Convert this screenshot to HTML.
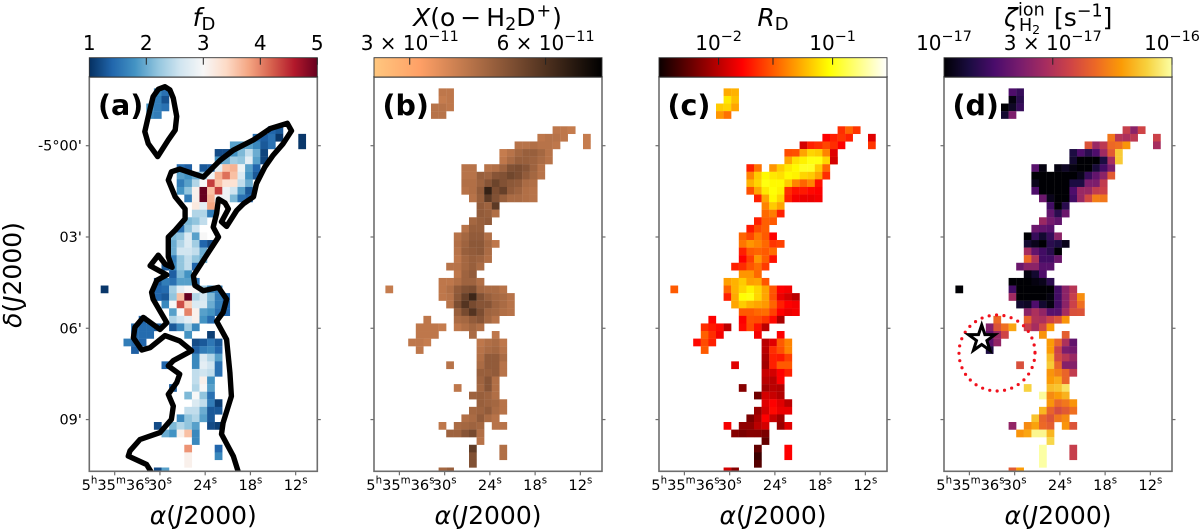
<!DOCTYPE html>
<html>
<head>
<meta charset="utf-8">
<title>Deuteration maps</title>
<style>
html,body{margin:0;padding:0;background:#fff;}
svg{display:block;font-family:"DejaVu Sans","Liberation Sans",sans-serif;filter:blur(0.35px);}
.math{font-style:italic;}
</style>
</head>
<body>
<svg id="fig" xmlns="http://www.w3.org/2000/svg" width="1200" height="532" viewBox="0 0 1200 532">
  <defs id="defs"></defs>
  <g id="panels"></g>
  <text x="204" y="26" font-size="25" text-anchor="middle"><tspan class="math">f</tspan><tspan font-size="18" dy="4">D</tspan></text>
  <text x="487.5" y="26" font-size="25" text-anchor="middle"><tspan class="math">X</tspan>(o<tspan dx="5">−</tspan><tspan dx="5">H</tspan><tspan font-size="17.5" dy="4">2</tspan><tspan dy="-4">D</tspan><tspan font-size="17.5" dy="-9.7" dx="1">+</tspan><tspan dy="9.7" dx="1">)</tspan></text>
  <text x="773" y="26" font-size="25" text-anchor="middle"><tspan class="math">R</tspan><tspan font-size="18" dy="4">D</tspan></text>
  <g font-size="25">
    <text x="1004" y="26" class="math">ζ</text>
    <text x="1018" y="15.5" font-size="17.5">ion</text>
    <text x="1019" y="31" font-size="17.5">H<tspan font-size="12.5" dy="3">2</tspan></text>
    <text x="1054" y="26">[s<tspan font-size="17.5" dy="-9.5">−1</tspan><tspan dy="9.5">]</tspan></text>
  </g>
  <text transform="translate(21,275) rotate(-90)" font-size="25" text-anchor="middle"><tspan class="math">δ</tspan>(<tspan class="math">J</tspan>2000)</text>
  <text x="98" y="115" font-size="28.5" font-weight="bold">(a)</text>
  <text x="382.5" y="115" font-size="28.5" font-weight="bold">(b)</text>
  <text x="667.5" y="115" font-size="28.5" font-weight="bold">(c)</text>
  <text x="952.5" y="115" font-size="28.5" font-weight="bold">(d)</text>
  <circle cx="997" cy="353" r="38" fill="none" stroke="#f0101c" stroke-width="3.2" stroke-linecap="round" stroke-dasharray="0 7.43"></circle>
  <polygon points="981.7,325 984.9,334.6 995,334.6 986.9,340.6 990,350.4 981.7,344.5 973.4,350.4 976.5,340.6 968.4,334.6 978.5,334.6" fill="#fff" stroke="#000" stroke-width="3" stroke-linejoin="miter"></polygon>
</svg>
<script>
// ---- shared axis tick data ----
const raTickSeconds = [36, 30, 24, 18, 12];
const raTickLabels = ['5^h^35^m^36^s', '30^s', '24^s', '18^s', '12^s'];
const decTickMinutes = [0, 3, 6, 9];
const decTickLabels = ["-5°00'", "03'", "06'", "09'"];

// ---- colour-bar ticks (value, label) ----
const fdBarTicks = [1, 2, 3, 4, 5];
const fdBarLabels = ['1', '2', '3', '4', '5'];
const xBarTicks = [3, 6];
const xBarLabels = ['3 × 10^−11', '6 × 10^−11'];
const rdBarTicks = [1, 3, 10];
const rdBarLabels = ['10^−2', '', '10^−1'];
const zetaBarTicks = [1, 3, 10];
const zetaBarLabels = ['10^−17', '3 × 10^−17', '10^−16'];

// ---- heatmap values: [row, firstColumn, value, value, ...] ----
// f_D (linear, 1 to 5)
const fdCells = [
[1,8,1.7,1.5],[2,8,1.6,1.25],[3,7,1.8,1.6,1.5],[4,7,1.7,1.6],
[6,23,1.4,1.3],[7,21,1.5,1.35,1.5,1.05],[7,27,1.05],[8,18,1.9,1.9,1.9,1.7,1.3,1.5],[8,27,1.05],
[9,16,1.2,1.2,1.8,2.1,2.5,2.0,1.15],[10,16,1.8,2.0,2.3,2.2,2.8,1.9,1.15],
[11,11,1.45,1.35],[11,14,1.3,1.35,2.8,3.6,3.7,2.9,1.9,1.4],
[12,11,1.9,1.8,2.0,2.3,2.9,3.7,4.1,3.6,2.7,1.8,1.3],
[13,11,1.6,1.9,2.4,3.0,4.4,3.6,3.3,3.3,2.5,2.0],
[14,11,1.8,2.2,3.1,5.0,3.6,4.4,2.9,2.6,1.9,1.3],
[15,12,1.6,3.1,5.0,3.7,2.9,2.9,2.1,1.5,1.4],
[16,13,3.2,2.8,3.8],[17,13,2.4,2.4,1.6],[18,12,2.1,2.2,2.5],[19,11,1.5,2.2,2.6],
[20,10,2.1,2.2,2.7,1.9,3.0],[21,10,2.0,2.4,2.7,2.3,1.4,1.2],[22,10,2.0,2.6,2.6,2.5,2.0],
[23,10,1.6,2.2,2.5,2.2,2.0],[24,9,1.3,1.7,2.2,2.5,1.4],[25,10,1.35,2.1,1.8],
[26,8,1.3,1.6,1.5,1.9,1.9,1.5],[27,8,1.4,1.45,2.3,2.8,3.0,3.0,2.3,1.7,1.6],[27,1,1.05],
[28,8,1.4,1.3,2.2,3.6,5.0,2.4,2.6,2.1,1.6,1.4],
[29,9,1.7,3.0,4.3,3.5,2.7,2.7,2.0,1.6,1.4],[30,10,1.9,3.0,4.0,3.1,1.9,1.8,1.5,1.4],
[31,6,1.4],[31,10,2.4,2.6,2.8,3.1,1.8,1.45],[32,5,1.5,1.45,1.45,1.3],[32,10,1.3,1.7,2.3,1.7],
[33,5,1.45,1.45,1.45],[33,12,1.8],[33,15,1.1],[34,4,1.6,1.45,1.4],[34,13,1.2,1.3,1.55,1.3],
[35,5,1.35],[35,13,1.35,1.6,1.7,1.4],[36,13,1.7,2.7,2.4,1.9],[37,9,1.4],[37,13,1.7,2.8,2.6,1.5],
[38,13,2.5,2.6,2.5,1.5],[39,13,2.5,3.1,1.8],[40,10,1.3],[40,13,2.4,3.0,1.9],
[41,12,2.1,3.0,2.2,1.5],[42,13,2.7,2.5,1.6,1.1],[43,12,2.5,2.5,2.0,1.3,1.3],
[44,11,1.7,2.2,2.4,1.9,1.3],[45,8,1.2],[45,10,2.1,2.4,2.2,1.9],[45,15,1.2,1.1],
[46,9,2.0,1.8,3.1,3.6,1.7],[47,13,1.7],[48,12,3.9],[48,16,1.4],[49,12,3.1],[49,16,1.7],[50,12,3.1],[51,8,1.2,1.9]
];
// X(o-H2D+) in units of 1e-11
const xCells = [
[1,8,4.0,4.0],[2,8,3.9,4.0],[3,7,4.1,4.1,4.0],[4,7,4.1,4.1],
[6,23,4.0,4.0,3.9],[7,21,4.0,4.1,4.1,4.0],[7,27,3.9],[8,18,4.1,4.1,4.2,4.1,4.1,4.0],[8,27,3.9],
[9,16,3.9,4.1,4.4,4.6,4.6,4.4,4.1],[10,16,4.0,4.3,4.6,4.6,4.5,4.3,4.1],
[11,11,4.1,4.1],[11,14,4.1,4.2,4.5,5.0,5.1,4.9,4.5,4.1],
[12,11,4.1,4.1,4.6,4.5,4.9,5.0,5.3,5.1,4.7,4.4,4.1],
[13,11,4.2,4.2,4.5,4.9,5.4,5.0,4.8,4.7,4.3,4.2],
[14,11,4.1,4.2,4.7,6.6,5.1,5.5,4.7,4.5,4.2,4.1],
[15,12,4.1,4.6,5.7,5.0,4.6,4.3,4.3,4.2,4.1],
[16,13,4.7,4.5,5.7],[17,13,4.7,4.6,4.2],[18,12,4.4,4.6,4.7],[19,11,4.1,4.6,4.6],
[20,10,4.1,4.4,4.7,4.7,4.2],[21,10,4.2,4.5,4.8,4.8,4.4,4.0],[22,10,4.1,4.6,4.7,4.8,4.3],
[23,10,4.0,4.4,4.6,4.5,4.2],[24,9,4.1,4.1,4.4,4.6,4.3],[25,10,4.0,4.5,4.7],
[26,8,4.0,4.0,4.2,4.5,4.5,4.2],[27,8,4.0,4.2,4.7,5.0,5.1,4.4,4.3,4.3,4.1],[27,1,3.9],
[28,8,4.0,4.1,4.8,5.5,6.4,5.0,4.6,4.4,4.3,4.1],
[29,9,4.1,5.1,5.9,5.2,4.9,4.9,4.5,4.3,4.1],[30,10,4.6,5.2,5.9,5.1,4.5,4.4,4.2,4.1],
[31,6,4.0],[31,10,4.3,4.4,4.7,4.9,4.4,4.1],[32,5,4.0,4.0,4.0,3.9],[32,10,4.0,4.2,4.4,4.2],
[33,5,4.0,4.0,4.0],[33,12,4.3],[33,15,4.0],[34,4,4.0,4.0,3.9],[34,13,4.0,4.2,4.3,4.0],
[35,5,4.0],[35,13,4.1,4.3,4.4,4.1],[36,13,4.2,4.7,4.7,4.3],[37,9,4.1],[37,13,4.3,4.7,4.7,4.1],
[38,13,4.6,4.6,4.7,4.1],[39,13,4.5,4.9,4.2],[40,10,4.0],[40,13,4.4,4.9,4.2],
[41,12,4.5,4.6,4.5,4.2],[42,13,4.6,4.5,4.4,4.1],[43,12,4.4,4.5,4.7,4.3,4.1],
[44,11,4.2,4.3,4.7,4.3,4.1],[45,8,4.0],[45,10,4.3,4.4,4.5,4.4],[45,15,4.1,4.1],
[46,9,4.5,4.5,4.9,5.2,4.2],[47,13,4.1],[48,12,5.6],[48,16,4.2],[49,12,5.0],[49,16,4.2],[50,12,5.0],[51,8,4.4,4.6]
];
// R_D in units of 1e-2
const rdCells = [
[1,8,5.2,5.5],[2,8,8.0,6.0],[3,7,6.5,7.0,5.0],[4,7,4.5,3.5],
[6,23,2.2,3.2,2.3],[7,21,1.6,2.0,2.3,2.0],[7,27,1.3],[8,18,1.2,2.0,2.2,2.6,2.2,1.6],[8,27,2.3],
[9,16,2.7,2.8,5.0,7.0,6.5,4.0,1.3],[10,16,5.0,7.5,8.5,10,10,7.0,3.5],
[10,22,1.2],[11,11,2.0,3.5],[11,14,4.5,6.5,8.0,9.0,11,11,6.5,3.3],
[12,11,4.0,6.5,9.0,8.0,7.5,9.0,8.5,7.0,6.5,5.0,2.2],
[13,11,5.5,7.0,10,9.0,9.0,6.5,4.0,3.2,4.0,1.8],
[14,11,2.8,5.0,8.0,9.5,8.5,2.2,1.8,1.9,1.7,1.6],
[15,12,2.0,5.0,9.0,7.0,2.0,1.5,1.4,1.4,1.5],
[16,13,4.0,6.5,5.0],[17,13,3.3,3.8,2.0],[18,12,2.0,3.1,3.0],[19,11,1.9,2.7,3.1],
[20,10,3.2,2.6,3.7,3.0,1.6],[21,10,3.6,4.5,4.0,3.3,2.3,2.5],[22,10,2.0,3.0,3.2,3.0,3.4],
[23,10,1.6,2.5,4.5,3.1,1.8],[24,9,2.0,2.2,2.9,3.4,2.4],[25,10,4.5,4.5,3.3],
[26,8,4.8,5.5,6.5,4.8,5.0,2.9],[27,8,3.2,5.5,7.0,8.5,7.0,5.0,2.9,1.6,1.5],[27,1,3.0],
[28,8,2.0,5.2,9.5,10,7.0,5.0,2.8,1.4,1.2,1.0],
[29,9,5.0,6.5,5.5,5.0,4.6,3.2,2.0,1.6,1.5],[30,10,3.0,3.0,3.3,3.4,2.5,1.6,1.4,1.5],
[31,6,1.6],[31,10,1.6,2.8,2.7,2.3,1.7,0.9],[32,5,2.2,1.9,1.7,1.0],[32,10,1.7,2.7,1.8,1.0],
[33,5,3.1,2.2,1.5],[33,12,1.5],[33,15,1.6],[34,4,1.7,2.7,2.0],[34,13,1.0,1.3,3.0,4.0],
[35,5,3.0],[35,13,1.0,2.2,2.8,4.0],[36,13,0.9,2.0,1.9,2.5],[37,9,1.3],[37,13,0.85,2.0,3.0,3.0],
[38,13,1.1,1.2,1.6,2.0],[39,13,1.0,1.0,1.6],[40,10,0.7],[40,13,0.85,1.0,0.95],
[41,12,0.6,1.2,1.1,0.95],[42,13,1.3,1.6,1.3,1.0],[43,12,0.8,1.2,1.7,1.4,1.4],
[44,11,0.65,0.9,1.6,1.1,0.85],[45,8,1.5],[45,10,0.75,0.75,1.0,1.2],[45,15,0.8,1.3],
[46,9,0.7,0.65,0.7,0.7,0.65],[47,13,0.55],[48,12,0.55],[48,16,1.6],[49,12,0.42],[49,16,1.6],[50,12,0.5],[51,8,1.2,0.7]
];
// zeta in units of 1e-17 s^-1
const zetaCells = [
[1,8,1.7,1.5],[2,8,1.05,1.4],[3,7,1.0,1.15,1.5],[4,7,1.2,2.2],
[6,23,3.4,2.4,3.6],[7,21,5.0,3.1,2.9,3.2],[7,27,3.5],[8,18,4.0,2.6,3.2,4.6,4.8,5.8],[8,27,2.8],
[9,16,1.3,1.7,1.4,1.7,2.7,4.2,7.5],[10,16,1.2,1.0,1.0,1.0,1.3,2.8,7.5],
[11,11,1.8,1.05],[11,14,1.05,1.15,1.05,1.0,1.0,1.25,1.6,2.2],
[12,11,1.0,1.0,1.0,1.0,1.0,1.0,1.1,1.5,1.9,2.4,4.2],
[13,11,1.1,1.0,1.0,1.0,1.0,1.3,1.3,2.2,2.2,3.3],
[14,11,1.7,1.0,1.0,1.0,1.0,1.7,2.6,2.6,3.3,3.5],
[15,12,2.0,1.1,1.0,1.0,1.6,2.6,3.7,5.2,5.0],
[16,13,1.6,1.0,1.4],[17,13,1.9,1.4,2.0],[18,12,2.6,2.1,1.9],[19,11,2.0,1.9,1.8],
[20,10,1.0,1.5,1.2,1.5,2.4],[21,10,1.2,1.1,1.0,1.4,1.3,1.1],[22,10,2.8,1.9,1.6,1.4,1.0],
[23,10,4.6,3.0,1.6,1.6,2.0],[24,9,2.0,2.4,2.4,1.8,1.8],[25,10,1.05,1.2,1.7],
[26,8,1.0,1.0,1.0,1.05,1.1,1.4],[27,8,1.6,1.0,1.0,1.0,1.0,1.0,1.6,2.4,3.1],[27,1,1.0],
[28,8,2.7,1.0,1.0,1.0,1.0,1.05,1.6,2.4,3.4,5.6],
[29,9,1.2,1.15,1.7,1.2,1.05,1.6,2.4,3.5,4.8],[30,10,2.4,2.9,2.5,1.8,1.8,2.8,3.9,4.0],
[31,6,4.6],[31,10,4.4,3.0,2.9,3.5,4.0,5.8],[32,5,2.3,4.0,4.8,6.3],[32,10,3.4,2.8,3.7,6.0],
[33,5,1.9,2.6,3.6],[33,12,5.8],[33,15,4.3],[34,4,1.6,1.8,2.5],[34,13,6.0,4.5,2.9,1.9],
[35,5,1.3],[35,13,6.0,3.5,2.2,2.1],[36,13,7.0,3.7,3.1,2.6],[37,9,3.9],[37,13,7.5,4.5,2.3,2.3],
[38,13,5.8,5.2,4.5,3.3],[39,13,6.0,6.5,4.5],[40,10,7.8],[40,13,7.0,7.3,8.5],
[41,12,9.8,5.5,6.0,6.7],[42,13,5.8,4.6,5.0,5.8],[43,12,6.8,4.5,3.8,4.2,4.8],
[44,11,7.2,4.5,4.0,5.0,5.5],[45,8,2.5],[45,10,5.5,6.2,4.6,4.3],[45,15,5.8,4.0],
[46,9,5.8,6.3,9.5,9.5,6.8],[47,13,8.0],[48,12,10],[48,16,3.4],[49,12,10],[49,16,3.4],[50,12,10],[51,8,4.2,6.0]
];

// ---- contour of panel (a), in map grid units [column, row] ----
const islandContour = [[9.96,1.28],[10.6,1.7],[11.05,2.8],[11.5,5.2],[11.3,7.0],[10.4,8.3],[9.0,10.5],[7.76,8.8],[7.3,7.2],[7.76,5.2],[8.4,2.6],[9.1,1.6]];
const ridgeContour = [[19.74,52.5],[18.95,50],[17.4,47.1],[17.6,45.6],[18.7,42.1],[18.5,39],[18.07,34.6],[16.75,32.2],[17.6,31.05],[18.07,29.3],[17,27.75],[15,28.2],[13.9,27.5],[13.7,26.2],[15.7,23.1],[17,21.1],[16.3,19.8],[16.75,18],[17,16.1],[17.85,16.6],[18.3,17.4],[17.4,19.1],[18.07,19.7],[19.4,17.6],[20.3,16.7],[21.6,15.8],[22,14.05],[23.1,11.85],[24.2,10.3],[25.5,8.8],[26.6,7.1],[26.05,6.1],[23.8,6.8],[21.6,8.3],[18.95,9.65],[17.2,11],[15,13.2],[11.9,12.15],[10.8,12.5],[10.4,13.6],[11.3,15.8],[12.6,17.4],[12.6,18.7],[11.3,20.2],[10.4,21.1],[10.4,23.7],[10.9,25.1],[10,24.7],[9.08,23.5],[8,24.9],[10.2,26.1],[8.9,26.8],[8.2,28.4],[8.4,29.3],[10.2,32.4],[9.3,33.3],[7.1,31.7],[6,33],[5.8,34.4],[6.9,36],[8,35.7],[9.96,34.1],[11.9,34.8],[13.46,36.1],[11.05,37.4],[10.4,38.1],[11.9,39.2],[11.5,40.3],[10.4,41.85],[11.05,43.4],[10.8,45.15],[9.3,46.9],[6.67,47.8],[5.35,49.3],[5.13,50],[7.54,51.1],[8.4,52.5]];

// ---- colour maps (position, colour) ----
const cmapRdBu = [[0,'#053061'],[.1,'#2166ac'],[.2,'#4393c3'],[.3,'#92c5de'],[.4,'#d1e5f0'],[.5,'#f7f7f7'],[.6,'#fddbc7'],[.7,'#f4a582'],[.8,'#d6604d'],[.9,'#b2182b'],[1,'#67001f']];
const cmapCopper = [[0,'#ffc77f'],[.2,'#ffa066'],[.4,'#bf784c'],[.6,'#805033'],[.8,'#402819'],[1,'#000000']];
const cmapHot = [[0,'#0b0000'],[.365,'#ff0000'],[.746,'#ffff00'],[1,'#ffffff']];
const cmapInferno = [[0,'#000004'],[.111,'#1b0c41'],[.222,'#4a0c6b'],[.333,'#781c6d'],[.444,'#a52c60'],[.556,'#cf4446'],[.667,'#ed6925'],[.778,'#fb9b06'],[.889,'#f7d13d'],[1,'#fcffa4']];

const NS = 'http://www.w3.org/2000/svg';
const axTop = 77, axBottom = 471.3, axWidth = 228, barTop = 57.7;
const cellW = axWidth / 30, cellH = (axBottom - axTop) / 52;
const spine = '#6e6e6e';
const panelsRoot = document.getElementById('panels');
const defs = document.getElementById('defs');

function make(tag, attrs, parent) {
  const el = document.createElementNS(NS, tag);
  for (const k in attrs) el.setAttribute(k, attrs[k]);
  parent.appendChild(el);
  return el;
}
function hexRgb(h) { return [1, 3, 5].map(i => parseInt(h.substr(i, 2), 16)); }
function sampleMap(cmap, f) {
  f = Math.max(0, Math.min(1, f));
  for (let i = 1; i < cmap.length; i++) {
    if (f <= cmap[i][0]) {
      const t = (f - cmap[i - 1][0]) / (cmap[i][0] - cmap[i - 1][0]);
      const a = hexRgb(cmap[i - 1][1]), b = hexRgb(cmap[i][1]);
      return 'rgb(' + a.map((v, j) => Math.round(v + (b[j] - v) * t)).join(',') + ')';
    }
  }
  return cmap[cmap.length - 1][1];
}
// writes "a^b^c" as alternating normal and superscript runs
function writeMath(textEl, label, size, ratio) {
  const parts = label.split('^');
  const supSize = size * ratio, lift = size * 0.44;
  parts.forEach((p, i) => {
    if (!p) return;
    const ts = document.createElementNS(NS, 'tspan');
    if (i % 2 === 1) { ts.setAttribute('font-size', supSize); ts.setAttribute('dy', -lift); }
    else if (i > 0) { ts.setAttribute('dy', lift); }
    ts.textContent = p;
    textEl.appendChild(ts);
  });
}

function drawPanel(id, left, cells, cmap, norm, barTicks, barLabels, contours) {
  const gridX = u => left + u * cellW;
  const gridY = u => axTop + u * cellH;
  const raX = s => left + 25.4 + (36 - s) * 7.54;
  const decY = m => 145.7 + m * 30.43;
  const g = make('g', {}, panelsRoot);
  
  

  const clip = make('clipPath', { id: 'clip-' + id }, defs);
  make('rect', { x: left, y: axTop, width: axWidth, height: axBottom - axTop }, clip);

  const map = make('g', { 'clip-path': 'url(#clip-' + id + ')' }, g);
  
  
  cells.forEach(row => {
    const r = row[0], c0 = row[1];
    row.slice(2).forEach((v, k) => {
      const cell = make('rect', {
        x: gridX(c0 + k + 0.5), y: gridY(r + 0.5),
        width: cellW + 0.15, height: cellH + 0.15,
        fill: sampleMap(cmap, norm(v))
      }, map);
      
      
    });
  });

  contours.forEach(loop => {
    const pts = loop.map(p => gridX(p[0]).toFixed(1) + ',' + gridY(p[1]).toFixed(1)).join(' ');
    const line = make('polygon', { points: pts, fill: 'none', stroke: '#000', 'stroke-width': 5.4, 'stroke-linejoin': 'round' }, map);
    
    
  });

  const frame = make('rect', { x: left, y: axTop, width: axWidth, height: axBottom - axTop, fill: 'none', stroke: spine, 'stroke-width': 1.6 }, g);
  
  

  raTickSeconds.forEach((s, i) => {
    const x = raX(s);
    const t = make('line', { x1: x, x2: x, y1: axBottom, y2: axBottom + 4, stroke: spine, 'stroke-width': 1.2 }, g);
    
    
    const lab = make('text', { x: i === 0 ? x + 1 : x, y: 490, 'font-size': 14.6, 'text-anchor': 'middle' }, g);
    
    
    writeMath(lab, raTickLabels[i], 14.6, 0.7);
  });
  decTickMinutes.forEach((m, i) => {
    const y = decY(m);
    [[left - 3.5, left], [left + axWidth, left + axWidth + 3.5]].forEach(seg => {
      const t = make('line', { x1: seg[0], x2: seg[1], y1: y, y2: y, stroke: spine, 'stroke-width': 1.2 }, g);
      
      
    });
    if (id === 'a') {
      const lab = make('text', { x: left - 7.5, y: y + 5, 'font-size': 14.4, 'text-anchor': 'end' }, g);
      
      
      lab.textContent = decTickLabels[i];
    }
  });

  const xlab = make('text', { x: left + 114, y: 524, 'font-size': 25, 'text-anchor': 'middle' }, g);
  
  
  const a1 = make('tspan', { 'font-style': 'italic' }, xlab); a1.textContent = 'α';
  const a2 = make('tspan', {}, xlab); a2.textContent = '(';
  const a3 = make('tspan', { 'font-style': 'italic' }, xlab); a3.textContent = 'J';
  const a4 = make('tspan', {}, xlab); a4.textContent = '2000)';

  const grad = make('linearGradient', { id: 'grad-' + id, x1: 0, x2: 1, y1: 0, y2: 0 }, defs);
  cmap.forEach(s => make('stop', { offset: s[0], 'stop-color': s[1] }, grad));
  const bar = make('rect', { x: left, y: barTop, width: axWidth, height: axTop - barTop, fill: 'url(#grad-' + id + ')', stroke: '#333', 'stroke-width': 0.9 }, g);
  
  
  barTicks.forEach((v, i) => {
    const x = left + norm(v) * axWidth;
    if (v !== barTicks[0] || norm(v) > 0) {
      const t = make('line', { x1: x, x2: x, y1: barTop, y2: barTop + 7, stroke: '#222', 'stroke-width': 1 }, g);
      
      
    }
    if (barLabels[i]) {
      const lab = make('text', { x: x, y: 50, 'font-size': 20, 'text-anchor': 'middle' }, g);
      
      
      writeMath(lab, barLabels[i], 20, 0.72);
    }
  });
}

drawPanel('a', 89.3, fdCells, cmapRdBu, v => (v - 1) / 4, fdBarTicks, fdBarLabels, [islandContour, ridgeContour]);
drawPanel('b', 374, xCells, cmapCopper, v => Math.log(v / 2.5) / Math.log(8 / 2.5), xBarTicks, xBarLabels, []);
drawPanel('c', 659, rdCells, cmapHot, v => Math.log(v / 0.3) / Math.log(100), rdBarTicks, rdBarLabels, []);
drawPanel('d', 944, zetaCells, cmapInferno, v => Math.log10(v), zetaBarTicks, zetaBarLabels, []);
</script>
</body>
</html>
